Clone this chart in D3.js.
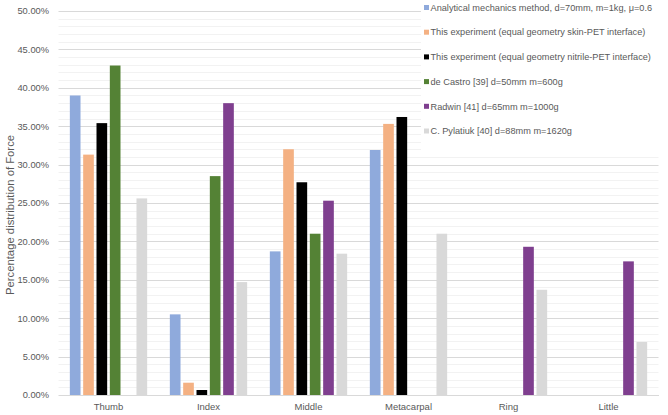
<!DOCTYPE html>
<html><head><meta charset="utf-8">
<script src="https://cdn.jsdelivr.net/npm/d3@7"></script>
<style>body{margin:0;background:#fff;} text{font-family:"Liberation Sans",Arial,sans-serif;fill:#595959;}</style>
</head><body>
<svg id="c" width="668" height="415"></svg>
<script>
const categories = ["Thumb","Index","Middle","Metacarpal","Ring","Little"];
const seriesNames = [
  "Analytical mechanics method, d=70mm, m=1kg, \u03bc=0.6",
  "This experiment (equal geometry skin-PET interface)",
  "This experiment (equal geometry nitrile-PET interface)",
  "de Castro [39] d=50mm m=600g",
  "Radwin [41] d=65mm m=1000g",
  "C. Pylatiuk [40] d=88mm m=1620g"
];
const seriesColors = ["#8faadc","#f4b183","#000000","#548235","#7f3f8f","#d9d9d9"];
const analytical = [0.390, 0.105, 0.187, 0.319, null, null];
const skinPET    = [0.313, 0.016, 0.320, 0.353, null, null];
const nitrilePET = [0.354, 0.0065, 0.277, 0.362, null, null];
const deCastro   = [0.429, 0.285, 0.210, null, null, null];
const radwin     = [null, 0.380, 0.253, null, 0.193, 0.174];
const pylatiuk   = [0.256, 0.147, 0.184, 0.210, 0.137, 0.069];
const series = [analytical, skinPET, nitrilePET, deCastro, radwin, pylatiuk];
const yTicks = [0,0.05,0.10,0.15,0.20,0.25,0.30,0.35,0.40,0.45,0.50];

const svg = d3.select("#c");
const L = 58.5, R = 658.5, T = 11, B = 395;
const x = d3.scaleBand().domain(categories).range([L, R]);
const y = d3.scaleLinear().domain([0, 0.5]).range([B, T]);
const barW = x.bandwidth() * 0.1067, step = x.bandwidth() * 0.1333;
const groupW = barW * 6 + (step - barW) * 5;

// minor gridlines
const minor = d3.range(0, 51).map(d => d / 100).filter(d => Math.round(d*100) % 5 !== 0);
svg.append("g").selectAll("line").data(minor).join("line")
  .attr("x1", L).attr("x2", R).attr("y1", d => Math.round(y(d))+0.5).attr("y2", d => Math.round(y(d))+0.5)
  .attr("stroke", "#f2f2f2").attr("stroke-width", 1);
// major gridlines
svg.append("g").selectAll("line").data(yTicks).join("line")
  .attr("x1", L).attr("x2", R).attr("y1", d => Math.round(y(d))+0.5).attr("y2", d => Math.round(y(d))+0.5)
  .attr("stroke", "#d9d9d9").attr("stroke-width", 1);

// y axis labels
const yAxis = d3.axisLeft(y).tickValues(yTicks).tickFormat(d => (d*100).toFixed(2) + "%").tickSize(0).tickPadding(9.5);
const ya = svg.append("g").attr("transform", `translate(${L},0)`).call(yAxis);
ya.select(".domain").remove();
ya.selectAll("text").style("font-size", "9.3px").style("fill", "#595959").style("font-family", "Liberation Sans, Arial, sans-serif");

// bars
series.forEach((vals, si) => {
  svg.append("g").selectAll("rect").data(categories.map((c, i) => ({c, v: vals[i]})).filter(d => d.v != null)).join("rect")
    .attr("x", d => x(d.c) + (x.bandwidth() - groupW) / 2 + si * step)
    .attr("width", barW)
    .attr("y", d => y(d.v))
    .attr("height", d => B - y(d.v))
    .attr("fill", seriesColors[si]);
});

// x axis
const xAxis = d3.axisBottom(x).tickSize(0).tickPadding(8);
const xa = svg.append("g").attr("transform", `translate(0,${B})`).call(xAxis);
xa.select(".domain").attr("stroke", "#d9d9d9");
xa.selectAll("text").style("font-size", "9.5px").style("fill", "#595959").style("font-family", "Liberation Sans, Arial, sans-serif");

// y title
svg.append("text").attr("transform", `translate(10.5,215) rotate(-90)`).attr("text-anchor", "middle")
  .attr("dy", "0.35em").style("font-size", "11.3px").text("Percentage distribution of Force");

// legend
const lg = svg.append("g");
lg.append("rect").attr("x", 421).attr("y", 0).attr("width", 247).attr("height", 152).attr("fill", "#fff");
seriesNames.forEach((n, i) => {
  const yy = 7.5 + i * 24.7;
  lg.append("rect").attr("x", 424).attr("y", yy - 2.5).attr("width", 5).attr("height", 5).attr("fill", seriesColors[i]);
  lg.append("text").attr("x", 430.5).attr("y", yy).attr("dy", "0.35em").style("font-size", "9.2px").text(n);
});
</script>
</body></html>
